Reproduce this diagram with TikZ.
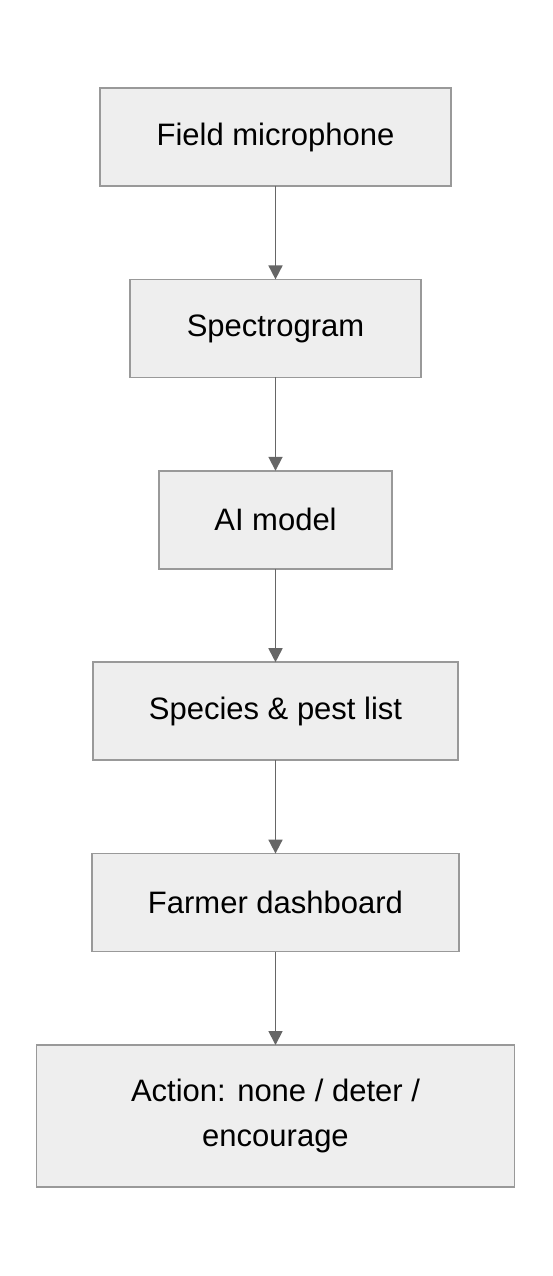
\documentclass[tikz,border=0pt]{standalone}
\usepackage{fontspec}
\setmainfont{Liberation Sans}
\usetikzlibrary{positioning,arrows.meta}
\definecolor{boxfill}{HTML}{EEEEEE}
\definecolor{boxedge}{HTML}{999999}
\definecolor{flowline}{HTML}{666666}

\begin{document}
\begin{tikzpicture}[x=1pt, y=-1pt,
	stage/.style = {draw=boxedge, fill=boxfill, line width=1.5pt, minimum height=98pt,
		inner sep=0pt, outer sep=0pt, align=center, font=\fontsize{31}{45}\selectfont},
	flow/.style = {draw=flowline, line width=1.8pt, -{Triangle[width=14pt,length=14pt]}},
	node distance=93.4pt
]
	\useasboundingbox (0,0) rectangle (552,1276);

%pipeline stages
	\node[stage, minimum width=351pt] (mic) at (275.5,137) {Field microphone};
	\node[stage, minimum width=291pt, below=of mic] (spec) {Spectrogram};
	\node[stage, minimum width=233pt, below=of spec] (model) {AI model};
	\node[stage, minimum width=365pt, below=of model] (species) {Species \& pest list};
	\node[stage, minimum width=367pt, below=of species] (dash) {Farmer dashboard};
	\node[stage, minimum width=478pt, minimum height=142pt, below=of dash] (action) {Action: none / deter /\\encourage};

%arrows
	\draw[flow] (mic) -- (spec);
	\draw[flow] (spec) -- (model);
	\draw[flow] (model) -- (species);
	\draw[flow] (species) -- (dash);
	\draw[flow] (dash) -- (action);
\end{tikzpicture}
\end{document}
